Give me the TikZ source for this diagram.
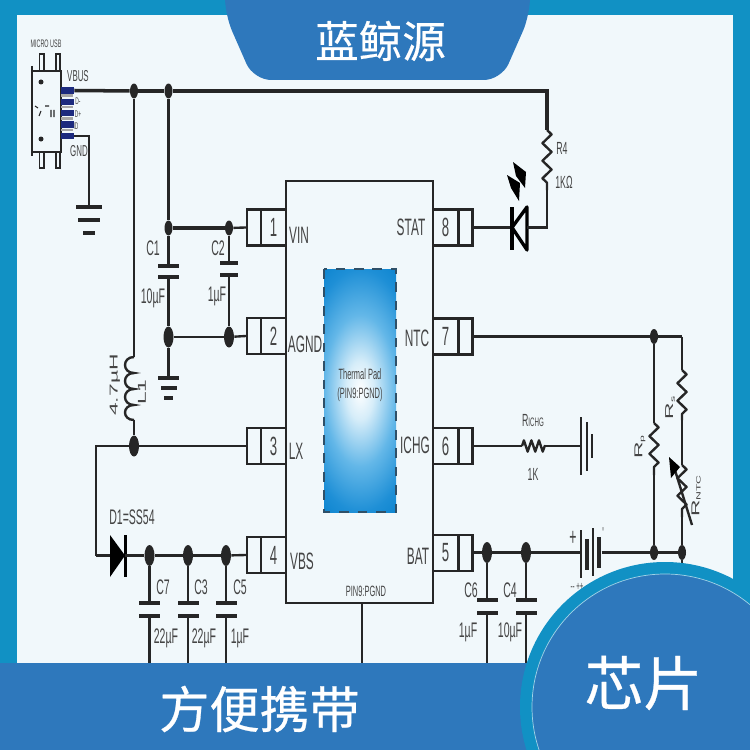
\documentclass[tikz,border=0pt]{standalone}
\usepackage{fontspec}
\usetikzlibrary{shapes.geometric,decorations.pathmorphing}
\newfontfamily\cjkfont[FakeBold=0.5]{Noto Sans CJK SC}
\newfontfamily\schemfont[FakeStretch=0.5]{Liberation Sans}
\newfontfamily\schemwide[FakeStretch=2]{Liberation Sans}
\definecolor{pagebg}{HTML}{F1F8FB}
\definecolor{edgeteal}{HTML}{1191C4}
\definecolor{bandblue}{HTML}{2E78BC}
\definecolor{inkdark}{HTML}{262626}
\definecolor{inktext}{HTML}{444444}
\definecolor{usbblue}{HTML}{1C2A7E}
\definecolor{padlight}{HTML}{D6EDF9}
\definecolor{padmid}{HTML}{63B7E8}
\definecolor{padedge}{HTML}{1E8FD6}
\definecolor{padcorner}{HTML}{0C84CF}
\definecolor{padline}{HTML}{2F5068}
\pgfdeclareradialshading{padglow}{\pgfpoint{0bp}{0bp}}{color(0bp)=(white); color(6bp)=(padlight); color(15.6bp)=(padmid); color(25bp)=(padedge); color(30bp)=(padcorner); color(50bp)=(padcorner)}
\tikzset{
	wire/.style={draw=inkdark, line width=1.35pt},
	widewire/.style={draw=inkdark, line width=2pt},
	dot/.style={ellipse, fill=inkdark, inner sep=0, minimum width=.16cm, minimum height=.3cm},
	bigdot/.style={ellipse, fill=inkdark, inner sep=0, minimum width=.2cm, minimum height=.42cm},
	plate/.style={rectangle, fill=inkdark, inner sep=0, minimum width=.42cm, minimum height=.07cm},
	pinnum/.style={rectangle, draw=inkdark, line width=1.35pt, inner sep=0, minimum width=.5cm, minimum height=.72cm, text=inktext, font=\schemfont\fontsize{15}{15}\selectfont},
	pintail/.style={rectangle, draw=inkdark, line width=1.35pt, inner sep=0, minimum width=.28cm, minimum height=.72cm},
	usbpin/.style={rectangle, fill=usbblue, inner sep=0, minimum width=.26cm, minimum height=.14cm},
	usbgap/.style={rectangle, fill=gray!70, inner sep=0, minimum width=.24cm, minimum height=.06cm},
	lbl/.style={text=inktext, inner sep=0, font=\schemfont\fontsize{12}{12}\selectfont},
	icname/.style={text=inktext, inner sep=0, font=\schemfont\fontsize{13.5}{13.5}\selectfont},
	smalllbl/.style={text=inktext, inner sep=0, font=\schemfont\fontsize{9}{9}\selectfont},
	sidelbl/.style={text=inktext, inner sep=0, rotate=90, font=\schemwide\fontsize{6.5}{6.5}\selectfont},
	zigres/.style={draw=inkdark, line width=1.35pt, line join=round, decorate, decoration={zigzag, segment length=10pt, amplitude=2.6pt}},
	zigshort/.style={draw=inkdark, line width=1.35pt, line join=round, decorate, decoration={zigzag, segment length=4.3pt, amplitude=3.2pt}},
	bigtext/.style={text=white, inner sep=0, font=\cjkfont},
}
\begin{document}
\begin{tikzpicture}[x=.02cm, y=-.02cm]
	\clip (0,0) rectangle (750,750);
	\fill[edgeteal] (0,0) rectangle (750,750);
	\fill[pagebg] (17,15) rectangle (733,680);

	% usb socket
	\node[rectangle, draw=inkdark, line width=1pt, inner sep=0, minimum width=.58cm, minimum height=1.62cm] (usb) at (46.5,111.5) {};
	\draw[inkdark, line width=.9pt] (39.5,71) -- (39.5,54) -- (44,54) -- (44,71);
	\draw[inkdark, line width=.9pt] (56,71) -- (56,54) -- (60,54) -- (60,71);
	\draw[inkdark, line width=.9pt] (39.5,152) -- (39.5,168) -- (44,168) -- (44,152);
	\draw[inkdark, line width=.9pt] (56,152) -- (56,168) -- (60,168) -- (60,152);
	\draw[inkdark, line width=.9pt] (32,66) -- (32,156);
	\fill[inkdark] (41,82) circle[radius=2.5];
	\fill[inkdark] (41,139) circle[radius=2.5];
	\draw[inkdark, line width=.6pt] (35,106) -- (38,108) (39,116) -- (41,111) (45,106) -- (49,106) (51,110) -- (51,117) (54,110) -- (54,117);
	\node[usbgap] (gap1) at (67,95.5) {};
	\node[usbgap] (gap2) at (67,107) {};
	\node[usbgap] (gap3) at (67,118.5) {};
	\node[usbgap] (gap4) at (67,130) {};
	\node[usbpin] (usb1) at (67.5,90.5) {};
	\node[usbpin] (usb2) at (67.5,102) {};
	\node[usbpin] (usb3) at (67.5,113) {};
	\node[usbpin] (usb4) at (67.5,124.5) {};
	\node[usbpin] (usb5) at (67.5,136) {};
	\node[text=inktext, inner sep=0, font=\schemfont\fontsize{6.2}{6.2}\selectfont] (usbname) at (46,44) {MICRO USB};
	\node[smalllbl] (vbusname) at (78,76) {VBUS};
	\node[text=inktext, inner sep=0, font=\schemfont\fontsize{5.5}{5.5}\selectfont] (dminus) at (78,101) {D-};
	\node[text=inktext, inner sep=0, font=\schemfont\fontsize{5.5}{5.5}\selectfont] (dplus) at (78,114) {D+};
	\node[text=inktext, inner sep=0, font=\schemfont\fontsize{5.5}{5.5}\selectfont] (idname) at (76,126) {ID};
	\node[smalllbl] (gndname) at (79,151) {GND};
	\node[plate, minimum width=.52cm] (gndA) at (89,207) {};
	\node[plate, minimum width=.44cm] (gndAb) at (89,220) {};
	\node[plate, minimum width=.24cm] (gndAc) at (89,233) {};
	\draw[wire] (usb5.east) -| (gndA);

	% chip
	\node[rectangle, draw=inkdark, line width=1.5pt, inner sep=0, minimum width=2.94cm, minimum height=8.44cm] (ic) at (359.5,392) {};
	\begin{scope}
		\clip (324,269) rectangle (396,512);
		\shade[shading=padglow] (302,269) rectangle (418,512);
	\end{scope}
	\draw[draw=padline, line width=1.4pt, dash pattern=on 5.5pt off 5pt] (324,269) rectangle (396,512);
	\node[inner sep=0, align=center, text=inktext, font=\schemfont\fontsize{8.5}{10}\selectfont] (padname) at (360,385) {Thermal Pad\\[1pt](PIN9:PGND)};

	\node[pinnum] (pin1) at (273.5,227.5) {1};
	\node[pintail] (tail1) at (254,227.5) {};
	\node[pinnum] (pin2) at (273.5,336) {2};
	\node[pintail] (tail2) at (254,336) {};
	\node[pinnum] (pin3) at (273.5,446) {3};
	\node[pintail] (tail3) at (254,446) {};
	\node[pinnum] (pin4) at (273.5,555) {4};
	\node[pintail] (tail4) at (254,555) {};
	\node[pinnum] (pin8) at (445.5,227.5) {8};
	\node[pintail] (tail8) at (465.5,227.5) {};
	\node[pinnum] (pin7) at (445.5,336.5) {7};
	\node[pintail] (tail7) at (465.5,336.5) {};
	\node[pinnum] (pin6) at (445.5,446) {6};
	\node[pintail] (tail6) at (465.5,446) {};
	\node[pinnum] (pin5) at (445.5,553) {5};
	\node[pintail] (tail5) at (465.5,553) {};

	\node[icname] (vinname) at (299,235) {VIN};
	\node[icname] (agndname) at (305,344) {AGND};
	\node[icname] (lxname) at (296,451) {LX};
	\node[icname] (vbsname) at (302,561) {VBS};
	\node[icname] (statname) at (411,227) {STAT};
	\node[icname] (ntcname) at (417,338) {NTC};
	\node[icname] (ichgname) at (415,445) {ICHG};
	\node[icname] (batname) at (418,556) {BAT};
	\node[text=inktext, inner sep=0, font=\schemfont\fontsize{8.5}{8.5}\selectfont] (pgndname) at (366,591) {PIN9:PGND};
	\coordinate (pgndend) at (362,670);
	\draw[wire] (ic.south -| pgndend) -- (pgndend);

	% vbus rail and input side
	\node[dot] (J1) at (134,91) {};
	\node[dot] (J2) at (168.5,91) {};
	\node[dot] (J3) at (168.5,228) {};
	\node[dot] (J4) at (229,228) {};
	\node[bigdot] (J5) at (168.5,337) {};
	\node[bigdot] (J6) at (229,337) {};
	\node[bigdot] (J7) at (134,446) {};
	\coordinate (R4a) at (547,130);
	\coordinate (R4b) at (547,190);
	\draw[widewire] (usb1.east) -- (J1);
	\draw[widewire] (J1) -- (J2);
	\draw[widewire] (J2) -| (R4a);
	\draw[zigres] (R4a) -- (R4b);
	\draw[wire] (J2) -- (J3);
	\draw[widewire] (J3) -- (J4);
	\draw[wire] (J4) -- (tail1.west);
	\node[plate] (C1a) at (168.5,266) {};
	\node[plate] (C1b) at (168.5,277) {};
	\node[plate, minimum width=.36cm] (C2a) at (229,263) {};
	\node[plate, minimum width=.36cm] (C2b) at (229,275) {};
	\draw[wire] (J3) -- (C1a);
	\draw[wire] (C1b) -- (J5);
	\draw[wire] (J4) -- (C2a);
	\draw[wire] (C2b) -- (J6);
	\draw[wire] (J5) -- (J6);
	\draw[wire] (J6) -- (tail2.west);
	\node[plate] (gndB) at (168.5,378) {};
	\node[plate, minimum width=.32cm] (gndBb) at (168.5,388) {};
	\node[plate, minimum width=.18cm] (gndBc) at (168.5,398) {};
	\draw[wire] (J5) -- (gndB);
	\node[lbl] (C1name) at (153,248) {C1};
	\node[lbl] (C1val) at (153,298) {10µF};
	\node[lbl] (C2name) at (218,248) {C2};
	\node[lbl] (C2val) at (217,296) {1µF};

	% inductor
	\coordinate (L1a) at (134,357);
	\coordinate (L1b) at (134,420);
	\draw[wire] (J1) -- (L1a);
	\draw[wire] (L1a) .. controls (122,357) and (122,373) .. (134,373) .. controls (122,373) and (122,389) .. (134,389) .. controls (122,389) and (122,405) .. (134,405) .. controls (122,405) and (122,420) .. (L1b);
	\draw[wire] (L1b) -- (J7);
	\draw[wire] (J7) -- (tail3.west);
	\node[sidelbl] (L1val) at (115,385) {4.7µH};
	\node[sidelbl] (L1name) at (142,392) {L1};

	% diode and output caps
	\coordinate (bendD) at (96,555.5);
	\coordinate (D1a) at (110,555.5);
	\coordinate (D1b) at (125,555.5);
	\draw[wire] (J7) -| (bendD);
	\draw[wire] (bendD) -- (D1a);
	\fill[black] (110,535) -- (125,555.5) -- (110,577) -- cycle;
	\draw[line width=1.3pt, black] (125.5,535) -- (125.5,577);
	\node[lbl] (D1name) at (132,517) {D1=SS54};
	\node[bigdot] (J8) at (149.5,555.5) {};
	\node[bigdot] (J9) at (188,555.5) {};
	\node[bigdot] (J10) at (226,555.5) {};
	\draw[widewire] (D1b) -- (J8);
	\draw[widewire] (J8) -- (J9);
	\draw[widewire] (J9) -- (J10);
	\draw[wire] (J10) -- (tail4.west);
	\node[plate] (C7a) at (149.5,603) {};
	\node[plate] (C7b) at (149.5,616) {};
	\node[plate] (C3a) at (188,603) {};
	\node[plate] (C3b) at (188,616) {};
	\node[plate] (C5a) at (226,603) {};
	\node[plate] (C5b) at (226,616) {};
	\coordinate (C7end) at (149.5,670);
	\coordinate (C3end) at (188,670);
	\coordinate (C5end) at (226,670);
	\draw[wire] (J8) -- (C7a);
	\draw[wire] (C7b) -- (C7end);
	\draw[wire] (J9) -- (C3a);
	\draw[wire] (C3b) -- (C3end);
	\draw[wire] (J10) -- (C5a);
	\draw[wire] (C5b) -- (C5end);
	\node[lbl] (C7name) at (163,587) {C7};
	\node[lbl] (C3name) at (201,587) {C3};
	\node[lbl] (C5name) at (240,587) {C5};
	\node[lbl] (C7val) at (166,638) {22µF};
	\node[lbl] (C3val) at (204,638) {22µF};
	\node[lbl] (C5val) at (240,638) {1µF};

	% led
	\coordinate (ledK) at (512,227.5);
	\coordinate (ledA) at (527,227.5);
	\draw[wire] (tail8.east) -- (ledK);
	\draw[widewire] (501,227.5) -- (ledK);
	\draw[line width=2.2pt, black] (512,207) -- (512,250);
	\draw[line width=1.9pt, black, line join=round] (527,207) -- (ledK) -- (527,250) -- cycle;
	\draw[wire] (ledA) -| (R4b);
	\fill[black] (513,162) -- (526,172) -- (525,188) -- (516,176) -- cycle;
	\fill[black] (507,175) -- (520,183) -- (519,201) -- (511,188) -- cycle;
	\node[smalllbl, font=\schemfont\fontsize{10}{10}\selectfont] (R4name) at (562,148) {R4};
	\node[smalllbl, font=\schemfont\fontsize{10}{10}\selectfont] (R4val) at (564,182) {1KΩ};

	% ntc network
	\node[dot] (J11) at (654,336.5) {};
	\node[dot] (J12) at (654,552.5) {};
	\node[dot] (J13) at (682,552.5) {};
	\coordinate (topright) at (682,336.5);
	\coordinate (R6a) at (654,423);
	\coordinate (R6b) at (654,475);
	\coordinate (R5a) at (682,370);
	\coordinate (R5b) at (682,420);
	\coordinate (Ra) at (682,465);
	\coordinate (Rb) at (682,517);
	\coordinate (Rend) at (682,575);
	\draw[widewire] (tail7.east) -- (J11);
	\draw[widewire] (J11) -- (topright);
	\draw[wire] (topright) -- (R5a);
	\draw[zigres] (R5a) -- (R5b);
	\draw[wire] (R5b) -- (Ra);
	\draw[zigres] (Ra) -- (Rb);
	\draw[wire] (Rb) -- (J13);
	\draw[wire] (J13) -- (Rend);
	\draw[wire] (J11) -- (R6a);
	\draw[zigres] (R6a) -- (R6b);
	\draw[wire] (R6b) -- (J12);
	\draw[widewire] (J12) -- (J13);
	\draw[wire] (692,525) -- (674,467);
	\fill[black] (669,457) -- (680,467) -- (671,478) -- cycle;
	\node[sidelbl, font=\schemwide\fontsize{6.5}{6.5}\selectfont] (Rpname) at (640,447) {R\raisebox{-.3ex}{\fontsize{3.5}{3.5}\selectfont p}};
	\node[sidelbl, font=\schemwide\fontsize{6.5}{6.5}\selectfont] (Rsname) at (670,408) {R\raisebox{-.3ex}{\fontsize{3.5}{3.5}\selectfont s}};
	\node[sidelbl, font=\schemwide\fontsize{6.5}{6.5}\selectfont] (Rntcname) at (696,496) {R\raisebox{-.2ex}{\fontsize{3.5}{3.5}\selectfont NTC}};

	% ichg branch
	\coordinate (Ria) at (522,446);
	\coordinate (Rib) at (545,446);
	\node[plate, minimum width=.04cm, minimum height=1.16cm] (gndC) at (581,446) {};
	\node[plate, minimum width=.04cm, minimum height=.98cm] (gndCb) at (587,446) {};
	\node[plate, minimum width=.04cm, minimum height=.48cm] (gndCc) at (592,446) {};
	\draw[wire] (tail6.east) -- (Ria);
	\draw[zigshort] (Ria) -- (Rib);
	\draw[wire] (Rib) -- (gndC);
	\node[smalllbl, font=\schemfont\fontsize{10}{10}\selectfont] (Riname) at (533,421) {R{\fontsize{7}{7}\selectfont ICHG}};
	\node[smalllbl, font=\schemfont\fontsize{10}{10}\selectfont] (Rival) at (533,474) {1K};

	% battery side
	\node[bigdot] (J14) at (487,552.5) {};
	\node[bigdot] (J15) at (526,552.5) {};
	\draw[wire] (tail5.east |- J14) -- (J14);
	\draw[widewire] (J14) -- (J15);
	\node[plate, minimum width=.04cm, minimum height=.96cm] (batA) at (581,554) {};
	\node[plate, minimum width=.09cm, minimum height=.62cm] (batB) at (587,554) {};
	\node[plate, minimum width=.04cm, minimum height=.96cm] (batC) at (593,552) {};
	\node[plate, minimum width=.09cm, minimum height=.62cm] (batD) at (599,552) {};
	\draw[widewire] (J15) -- (batA.west |- J15);
	\draw[widewire] (batD.east |- J12) -- (J12);
	\node[text=inktext, inner sep=0, font=\schemfont\fontsize{14}{14}\selectfont] (plusname) at (573,538) {+};
	\node[smalllbl] (tickname) at (603,533) {'};
	\node[text=inktext, inner sep=0, font=\schemfont\fontsize{7}{7}\selectfont] (minusname) at (577,587) {-- ++};
	\node[plate] (C6a) at (487,600) {};
	\node[plate] (C6b) at (487,613) {};
	\node[plate] (C4a) at (526,600) {};
	\node[plate] (C4b) at (526,613) {};
	\coordinate (C6end) at (487,670);
	\coordinate (C4end) at (526,670);
	\draw[wire] (J14) -- (C6a);
	\draw[wire] (C6b) -- (C6end);
	\draw[wire] (J15) -- (C4a);
	\draw[wire] (C4b) -- (C4end);
	\node[lbl] (C6name) at (471,590) {C6};
	\node[lbl] (C4name) at (510,590) {C4};
	\node[lbl] (C6val) at (468,632) {1µF};
	\node[lbl] (C4val) at (510,632) {10µF};

	% banner shapes on top
	\fill[bandblue, rounded corners=10pt] (225,-20) -- (225,15) -- (253.6,80) -- (501.4,80) -- (530,15) -- (530,-20) -- cycle;
	\fill[bandblue] (0,663) rectangle (750,750);
	\fill[edgeteal] (665,707) circle[radius=145];
	\filldraw[fill=bandblue, draw=white!60!edgeteal, line width=.4pt] (665,707) circle[radius=133];
	\node[bigtext, font=\cjkfont\fontsize{24.8}{24.8}\selectfont] (brand) at (380.5,41) {蓝鲸源};
	\node[bigtext, font=\cjkfont\fontsize{28.5}{28.5}\selectfont] (slogan) at (259.5,709) {方便携带};
	\node[bigtext, font=\cjkfont\fontsize{33.5}{33.5}\selectfont] (chipname) at (643.5,683) {芯片};
\end{tikzpicture}
\end{document}
